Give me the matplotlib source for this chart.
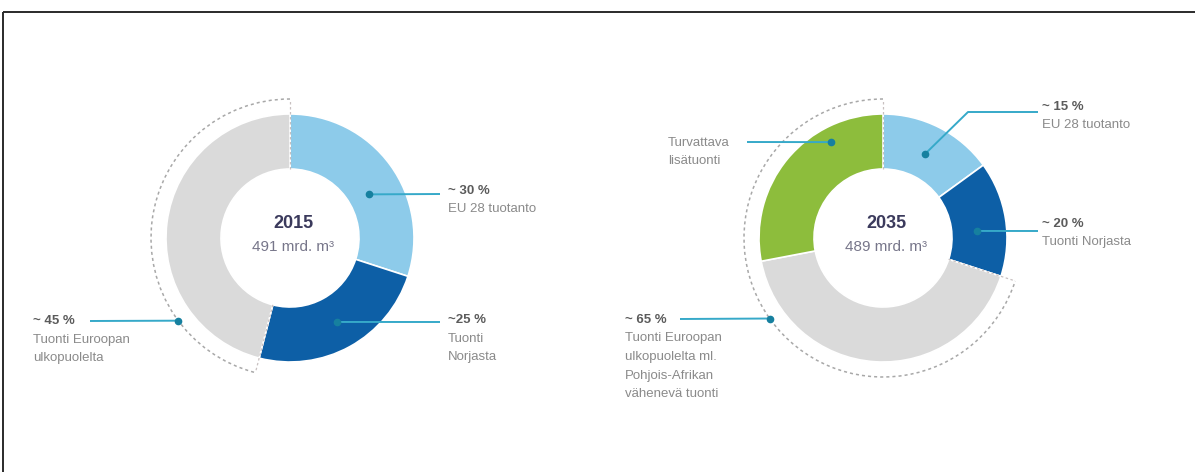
import numpy as np
import matplotlib.pyplot as plt
from matplotlib import font_manager
from matplotlib.patches import Arc

W, H = 1195, 472

# 2015, clockwise from the top
shares_2015 = [30, 24, 46]
colors_2015 = ['#8dcbea', '#0d5fa6', '#dadada']
pct_2015 = ['~ 30 %', '~25 %', '~ 45 %']
desc_2015 = [['EU 28 tuotanto'], ['Tuonti', 'Norjasta'], ['Tuonti Euroopan', 'ulkopuolelta']]
year_2015 = '2015'
total_2015 = '491 mrd. m³'

# 2035, clockwise from the top
shares_2035 = [15, 15, 42, 28]
colors_2035 = ['#8dcbea', '#0d5fa6', '#dadada', '#8dbd3c']
pct_2035 = ['~ 15 %', '~ 20 %', '~ 65 %', '']
desc_2035 = [['EU 28 tuotanto'], ['Tuonti Norjasta'],
             ['Tuonti Euroopan', 'ulkopuolelta ml.', 'Pohjois-Afrikan', 'vähenevä tuonti'],
             ['Turvattava', 'lisätuonti']]
year_2035 = '2035'
total_2035 = '489 mrd. m³'

# first segment index covered by the dashed "imports" arc
imports_from_2015 = 2
imports_from_2035 = 2

names = {f.name for f in font_manager.fontManager.ttflist}
FONT = ['Liberation Sans', 'DejaVu Sans']
plt.rcParams['font.family'] = FONT
if 'Liberation Sans Narrow' in names:
    NARROW = ['Liberation Sans Narrow', 'Liberation Sans']
    TOTAL_SIZE = 12.5
else:
    NARROW = FONT
    TOTAL_SIZE = 11

R_OUT, R_IN, R_DASH = 124, 69, 139
LINE_C = '#36a9c9'
DOT_C = '#16809f'
DASH_C = '#a8a8a8'
STEP = 18.5


def Y(y):
    return H - y


def polar(c, ang, rad):
    a = np.deg2rad(ang)
    return c[0] + rad * np.cos(a), c[1] - rad * np.sin(a)


def donut(ax, c, shares, colors, imp_from, year, total):
    ax.pie(shares, colors=colors, startangle=90, counterclock=False,
           radius=R_OUT, center=(c[0], Y(c[1])),
           wedgeprops=dict(width=R_OUT - R_IN, edgecolor='white', linewidth=1.2))
    a = 90 - 3.6 * sum(shares[:imp_from])
    ax.add_patch(Arc((c[0], Y(c[1])), 2 * R_DASH, 2 * R_DASH, theta1=90, theta2=a + 360,
                     color=DASH_C, lw=1.1, ls=(0, (2, 2))))
    for ang in (90, a):
        p0 = polar(c, ang, R_IN)
        p1 = polar(c, ang, R_DASH)
        ax.plot([p0[0], p1[0]], [Y(p0[1]), Y(p1[1])], color='#c8c0c0', lw=0.9,
                ls=(0, (2, 2)))
    ax.text(c[0] + 3, Y(c[1] - 15), year, ha='center', va='center', fontsize=13,
            fontweight='bold', color='#3b3a5c')
    ax.text(c[0] + 3, Y(c[1] + 9), total, ha='center', va='center',
            fontsize=TOTAL_SIZE, color='#77768a', family=NARROW)


def callout(ax, c, ang, rad, end, tx, ty, pct, desc, elbow=None):
    dx, dy = polar(c, ang, rad)
    xs, ys = [dx], [dy]
    if elbow is not None:
        xs.append(elbow[0])
        ys.append(elbow[1])
    xs.append(end[0])
    ys.append(end[1])
    ax.plot(xs, [Y(v) for v in ys], color=LINE_C, lw=1.4, solid_capstyle='butt')
    ax.plot([dx], [Y(dy)], 'o', color=DOT_C, ms=4.5)
    y = ty
    if pct:
        ax.text(tx, Y(y), pct, ha='left', va='center', fontsize=9.5,
                fontweight='bold', color='#5b5b5b')
        y += STEP
    for line in desc:
        ax.text(tx, Y(y), line, ha='left', va='center', fontsize=9.5,
                color='#8a8a8a')
        y += STEP


fig = plt.figure(figsize=(W / 100, H / 100), dpi=100)
ax = fig.add_axes([0, 0, 1, 1])

c1 = (290, 238)
c2 = (883, 238)
donut(ax, c1, shares_2015, colors_2015, imports_from_2015, year_2015, total_2015)
donut(ax, c2, shares_2035, colors_2035, imports_from_2035, year_2035, total_2035)

# 2015 callouts
callout(ax, c1, 29, 90, (440, 194), 448, 191, pct_2015[0], desc_2015[0])
callout(ax, c1, -61, 96, (440, 322), 448, 320, pct_2015[1], desc_2015[1])
callout(ax, c1, 216.5, R_DASH, (90, 321), 33, 321, pct_2015[2], desc_2015[2])

# 2035 callouts
callout(ax, c2, 63.4, 94, (1038, 112), 1042, 107, pct_2035[0], desc_2035[0],
        elbow=(968, 112))
callout(ax, c2, 4.3, 94, (1038, 231), 1042, 224, pct_2035[1], desc_2035[1])
callout(ax, c2, 215.4, R_DASH, (680, 319), 625, 320, pct_2035[2], desc_2035[2])
callout(ax, c2, 118.4, 109, (747, 142), 668, 143, pct_2035[3], desc_2035[3])

# frame
ax.plot([3.5, 3.5], [0, Y(11.5)], color='#2a2a2a', lw=1.4, solid_capstyle='butt')
ax.plot([3.5, W], [Y(11.5), Y(11.5)], color='#2a2a2a', lw=1.4, solid_capstyle='butt')

ax.set_xlim(0, W)
ax.set_ylim(0, H)
ax.set_aspect('equal')
ax.axis('off')

fig.savefig('out.png', dpi=100, facecolor='white')
